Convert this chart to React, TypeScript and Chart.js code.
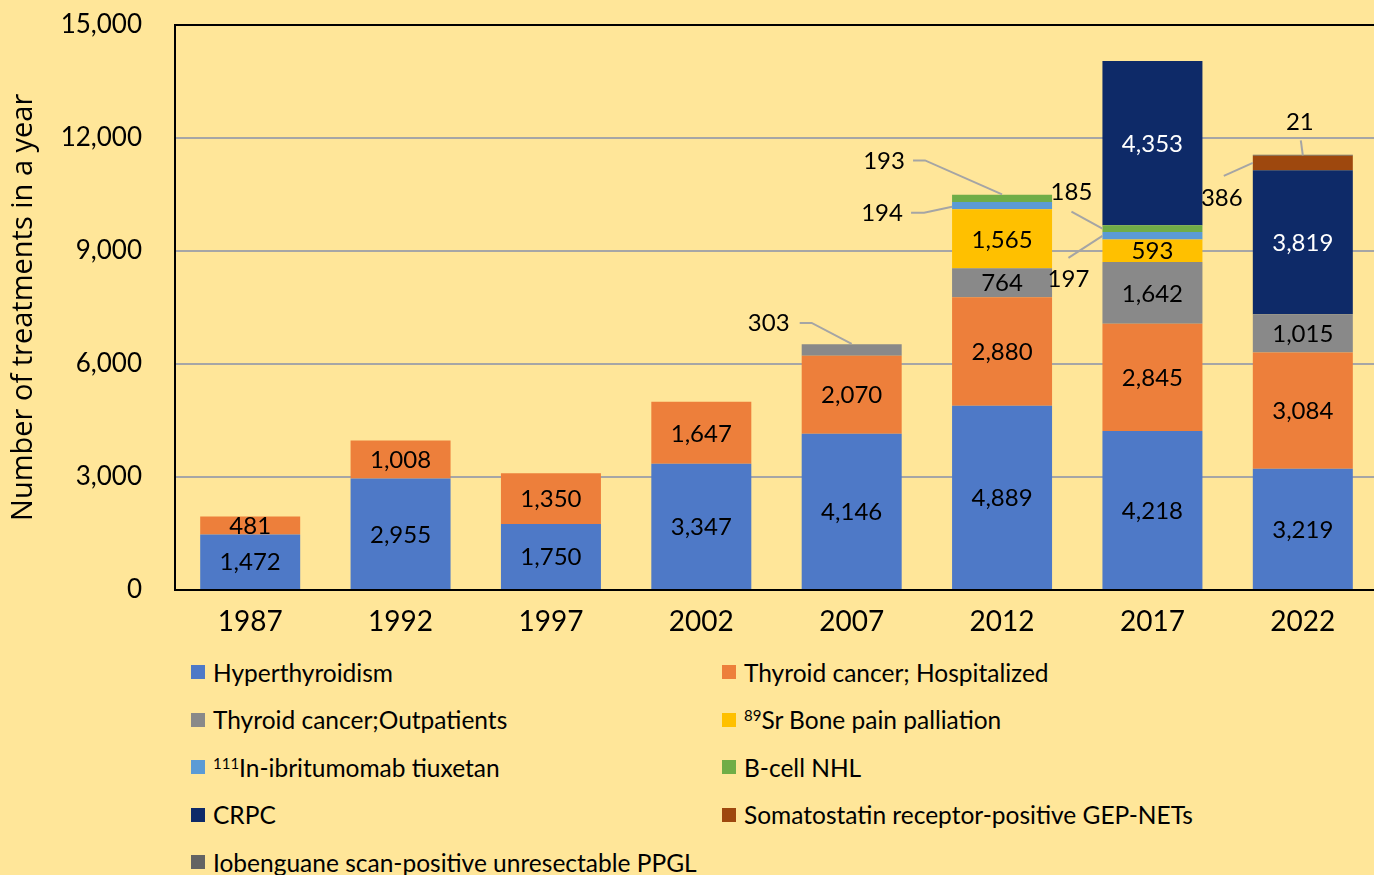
import React, { useEffect, useRef } from "react";
import { Chart, registerables } from "chart.js";

Chart.register(...registerables);

const years = ["1987", "1992", "1997", "2002", "2007", "2012", "2017", "2022"];
const hyperthyroidism = [1472, 2955, 1750, 3347, 4146, 4889, 4218, 3219];
const thyroidHospitalized = [481, 1008, 1350, 1647, 2070, 2880, 2845, 3084];
const thyroidOutpatients = [null, null, null, null, 303, 764, 1642, 1015];
const srBonePain = [null, null, null, null, null, 1565, 593, null];
const inIbritumomab = [null, null, null, null, null, 194, 197, null];
const bCellNHL = [null, null, null, null, null, 193, 185, null];
const crpc = [null, null, null, null, null, null, 4353, 3819];
const somatostatin = [null, null, null, null, null, null, null, 386];
const iobenguane = [null, null, null, null, null, null, null, 21];
const yTicks = [0, 3000, 6000, 9000, 12000, 15000];

const seriesNames = [
  "Hyperthyroidism",
  "Thyroid cancer; Hospitalized",
  "Thyroid cancer;Outpatients",
  "89Sr Bone pain palliation",
  "111In-ibritumomab tiuxetan",
  "B-cell NHL",
  "CRPC",
  "Somatostatin receptor-positive GEP-NETs",
  "Iobenguane scan-positive unresectable PPGL",
];
const seriesData = [
  hyperthyroidism,
  thyroidHospitalized,
  thyroidOutpatients,
  srBonePain,
  inIbritumomab,
  bCellNHL,
  crpc,
  somatostatin,
  iobenguane,
];
const seriesColors = [
  "#4E79C7",
  "#ED7F3B",
  "#898989",
  "#FFC000",
  "#5B9BD5",
  "#70AD47",
  "#0E2A68",
  "#9E480E",
  "#636363",
];

// callouts: [datasetIndex, categoryIndex] with label/leader offsets relative to segment centre (px)
const callouts = [
  { ds: 2, i: 4, label: [-83, -27], pts: [[-52, -27], [-40, -27], [0, -6]] },
  { ds: 5, i: 5, label: [-118, -37], pts: [[-89, -38], [-77, -38], [0, -4]] },
  { ds: 4, i: 5, label: [-120, 8], pts: [[-91, 7], [-78, 7], [-50, 1]] },
  { ds: 5, i: 6, label: [-81, -36], pts: [[-81, -17], [-50, 0]] },
  { ds: 4, i: 6, label: [-84, 43], pts: [[-84, 22], [-50, 0]] },
  { ds: 7, i: 7, label: [-81, 35], pts: [[-79, 13], [-50, 0]] },
  { ds: 8, i: 7, label: [-3, -33], pts: [[-2, -15], [0, 0]] },
];

const FONT = "Lato, 'Open Sans', sans-serif";
const fmt = (v: number) => v.toLocaleString("en-US");

const labelPlugin = {
  id: "segLabels",
  afterDatasetsDraw(chart: any) {
    const ctx = chart.ctx;
    ctx.save();
    ctx.font = `24px ${FONT}`;
    ctx.textAlign = "center";
    ctx.textBaseline = "middle";
    chart.data.datasets.forEach((d: any, ds: number) => {
      const meta = chart.getDatasetMeta(ds);
      meta.data.forEach((bar: any, i: number) => {
        const v = d.data[i];
        if (v == null) return;
        const cx = bar.x;
        const cy = (bar.y + bar.base) / 2;
        const c = callouts.find((c) => c.ds === ds && c.i === i);
        if (c) {
          ctx.strokeStyle = "#A5A5A5";
          ctx.lineWidth = 2;
          ctx.beginPath();
          c.pts.forEach((p, k) => {
            if (k === 0) ctx.moveTo(cx + p[0], cy + p[1]);
            else ctx.lineTo(cx + p[0], cy + p[1]);
          });
          ctx.stroke();
          ctx.fillStyle = "#000";
          ctx.fillText(fmt(v), cx + c.label[0], cy + c.label[1]);
        } else {
          ctx.fillStyle = ds === 6 ? "#FFFFFF" : "#000";
          ctx.fillText(fmt(v), cx, cy + 1);
        }
      });
    });
    ctx.restore();
  },
};

function LegendLabel({ name }: { name: string }) {
  const supStyle = { fontSize: "15px", verticalAlign: "8px", lineHeight: 0 } as any;
  if (name.startsWith("89Sr")) {
    return (
      <span>
        <sup style={supStyle}>89</sup>
        {name.slice(2)}
      </span>
    );
  }
  if (name.startsWith("111In")) {
    return (
      <span>
        <sup style={supStyle}>111</sup>
        {name.slice(3)}
      </span>
    );
  }
  return <span>{name}</span>;
}

export default function App() {
  const ref = useRef<HTMLCanvasElement | null>(null);

  useEffect(() => {
    document.body.style.margin = "0";
    const canvas = ref.current!;
    const chart = new Chart(canvas, {
      type: "bar",
      data: {
        labels: years,
        datasets: seriesNames.map((n, k) => ({
          label: n,
          data: seriesData[k] as any,
          backgroundColor: seriesColors[k],
          borderWidth: 0,
          categoryPercentage: 1,
          barPercentage: 0.665,
        })),
      },
      options: {
        animation: false,
        responsive: false,
        layout: { padding: { top: 2, right: 0, left: 0, bottom: 0 } },
        plugins: { legend: { display: false }, tooltip: { enabled: false } },
        scales: {
          x: {
            stacked: true,
            grid: { display: false, drawTicks: false },
            border: { color: "#000", width: 2 },
            ticks: { color: "#000", font: { family: FONT, size: 28 }, padding: 15 },
            afterFit: (s: any) => {
              s.height = 60;
            },
          },
          y: {
            stacked: true,
            min: 0,
            max: 15000,
            afterBuildTicks: (s: any) => {
              s.ticks = yTicks.map((v) => ({ value: v }));
            },
            grid: {
              drawTicks: false,
              color: (c: any) => (c.tick && c.tick.value === 15000 ? "#000" : "#A6A6A6"),
              lineWidth: 2,
            },
            border: { color: "#000", width: 2 },
            ticks: {
              color: "#000",
              font: { family: FONT, size: 26 },
              padding: 33,
              callback: (v: any) => fmt(Number(v)),
            },
            title: {
              display: true,
              text: "Number of treatments in a year",
              color: "#000",
              font: { family: "'Open Sans', sans-serif", size: 29 },
              padding: { top: 6, bottom: 0 },
            },
            afterFit: (s: any) => {
              s.width = 175;
            },
          },
        },
      },
      plugins: [labelPlugin],
    });
    return () => chart.destroy();
  }, []);

  const rows: number[][] = [];
  for (let k = 0; k < seriesNames.length; k += 2) rows.push([k, k + 1].filter((x) => x < seriesNames.length));

  return (
    <div
      style={{
        position: "relative",
        width: 1374,
        height: 875,
        background: "#FFE699",
        overflow: "hidden",
        fontFamily: FONT,
      }}
    >
      <canvas ref={ref} width={1378} height={674} style={{ position: "absolute", left: 0, top: -24 }} />
      {rows.map((r, ri) =>
        r.map((k, ci) => (
          <div
            key={k}
            style={{
              position: "absolute",
              left: ci === 0 ? 191 : 722,
              top: 672 + ri * 47.5 - 15,
              height: 30,
              display: "flex",
              alignItems: "center",
              fontSize: 24.5,
              color: "#000",
              whiteSpace: "nowrap",
            }}
          >
            <span
              style={{
                display: "inline-block",
                width: 14,
                height: 14,
                background: seriesColors[k],
                marginRight: 8,
              }}
            />
            <LegendLabel name={seriesNames[k]} />
          </div>
        ))
      )}
    </div>
  );
}
